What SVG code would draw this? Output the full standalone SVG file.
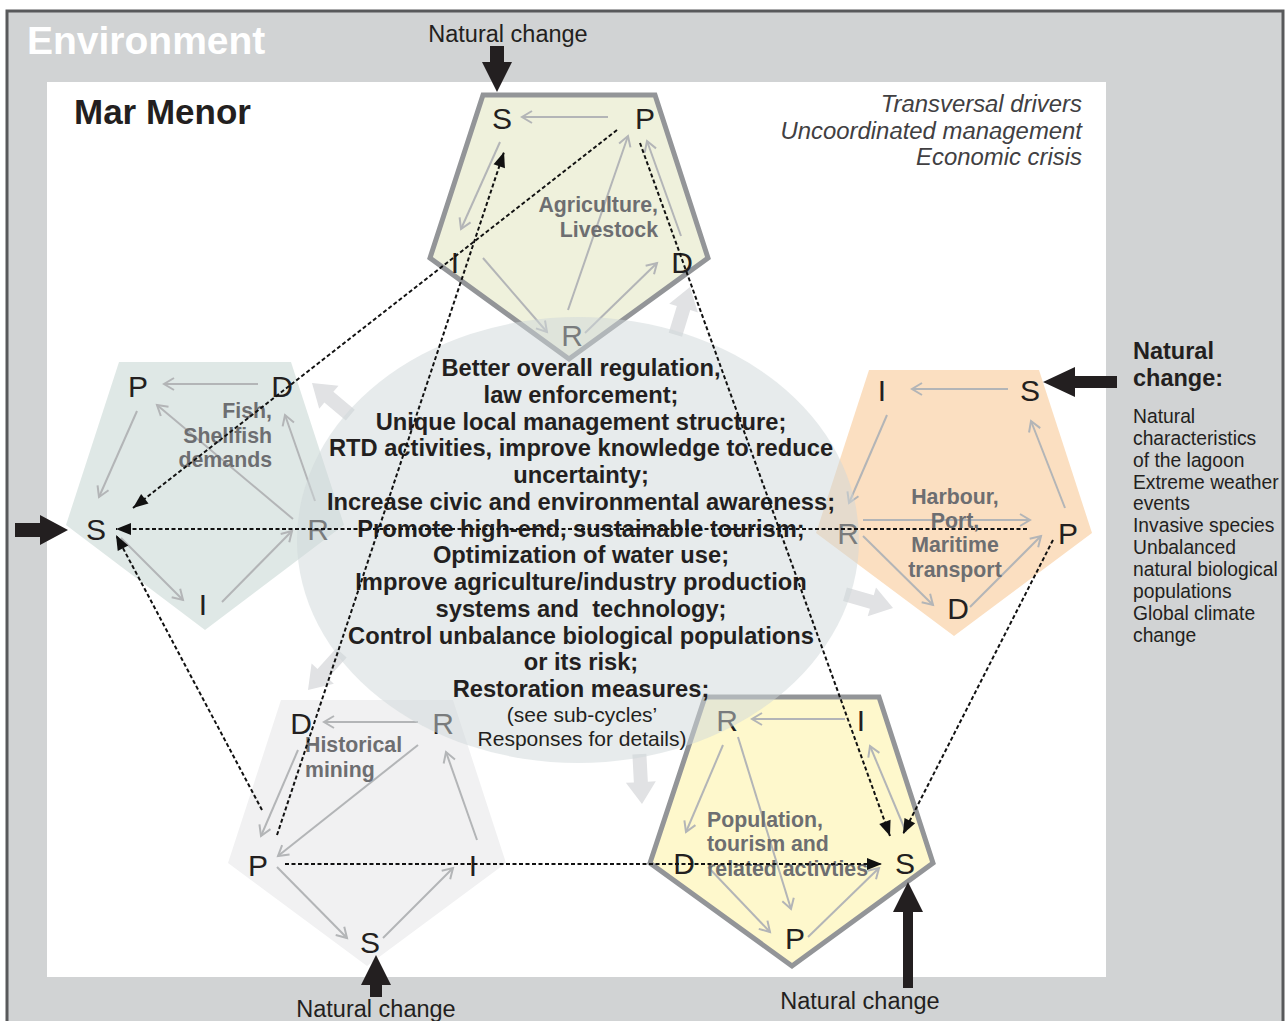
<svg xmlns="http://www.w3.org/2000/svg" width="1286" height="1021" viewBox="0 0 1286 1021">
<style>
text{font-family:"Liberation Sans",Arial,sans-serif}
.lbl{font-size:30px;fill:#231f20;text-anchor:middle}
.sub{font-size:21.3px;font-weight:bold;fill:#6d6e71}
.ga{stroke:#b3b5b7;stroke-width:2;fill:none;marker-end:url(#ga)}
.dc{stroke:#111;stroke-width:2;stroke-dasharray:4 2.5;fill:none;marker-end:url(#bk)}
.ctr{font-size:23.7px;font-weight:bold;fill:#231f20;text-anchor:middle}
.nat{font-size:23.5px;fill:#231f20;text-anchor:middle}
.side{font-size:19.3px;fill:#231f20}
.ital{font-size:23.9px;font-style:italic;fill:#414042;text-anchor:end}
.blk{fill:#231f20}
.big{fill:#e1e2e4}
</style>
<defs>
<marker id="ga" markerUnits="userSpaceOnUse" markerWidth="14" markerHeight="14" refX="10" refY="6" orient="auto" overflow="visible">
<path d="M0,0 L10,6 L0,12" fill="none" stroke="#b3b5b7" stroke-width="2"/>
</marker>
<marker id="bk" markerUnits="userSpaceOnUse" markerWidth="16" markerHeight="13" refX="15" refY="6" orient="auto" overflow="visible">
<path d="M0,0 L15,6 L0,12 z" fill="#111"/>
</marker>
<polygon id="bigarrow" points="-50,-7 -22,-7 -22,-15 0,0 -22,15 -22,7 -50,7"/>
</defs>

<!-- Environment frame -->
<rect x="7" y="11" width="1276" height="1016" fill="#d1d3d4" stroke="#58595b" stroke-width="3"/>
<text x="27" y="54" font-size="39" font-weight="bold" fill="#ffffff">Environment</text>
<rect x="47" y="82" width="1059" height="895" fill="#ffffff"/>
<text x="74" y="124" font-size="35" font-weight="bold" fill="#231f20">Mar Menor</text>

<text class="ital" x="1082" y="112">Transversal drivers</text>
<text class="ital" x="1082" y="139">Uncoordinated management</text>
<text class="ital" x="1082" y="165">Economic crisis</text>

<!-- big light arrows from central responses -->
<g id="response-arrows">
<use href="#bigarrow" class="big" transform="translate(690,287) rotate(-73)"/>
<use href="#bigarrow" class="big" transform="translate(312,383) rotate(-140)"/>
<use href="#bigarrow" class="big" transform="translate(893,608) rotate(16)"/>
<use href="#bigarrow" class="big" transform="translate(308,690) rotate(132)"/>
<use href="#bigarrow" class="big" transform="translate(642,804) rotate(87)"/>
</g>

<!-- Agriculture, Livestock -->
<g id="agriculture">
<polygon points="569,359 430,258 483,95 655,95 708,258" fill="#eff1dc" stroke="#939598" stroke-width="5" stroke-linejoin="miter"/>
<line class="ga" x1="608" y1="117" x2="522" y2="117"/>
<line class="ga" x1="500" y1="142" x2="461" y2="229"/>
<line class="ga" x1="483" y1="258" x2="547" y2="332"/>
<line class="ga" x1="568" y1="310" x2="628" y2="136"/>
<line class="ga" x1="585" y1="333" x2="657" y2="263"/>
<line class="ga" x1="681" y1="236" x2="647" y2="141"/>
<text class="lbl" x="502" y="129">S</text>
<text class="lbl" x="645" y="129">P</text>
<text class="lbl" x="455" y="273">I</text>
<text class="lbl" x="682" y="273">D</text>
<text class="lbl" x="572" y="346">R</text>
<text class="sub" x="658" y="212" text-anchor="end">Agriculture,</text>
<text class="sub" x="658" y="237" text-anchor="end">Livestock</text>
</g>

<!-- Fish, Shellfish demands -->
<g id="fish">
<polygon points="205,630 66,525 119,362 291,362 344,525" fill="#dfe8e6"/>
<line class="ga" x1="258" y1="384" x2="164" y2="384"/>
<line class="ga" x1="137" y1="411" x2="99" y2="497"/>
<line class="ga" x1="121" y1="538" x2="183" y2="600"/>
<line class="ga" x1="222" y1="602" x2="292" y2="531"/>
<line class="ga" x1="293" y1="519" x2="157" y2="405"/>
<line class="ga" x1="315" y1="501" x2="285" y2="415"/>
<text class="lbl" x="138" y="397">P</text>
<text class="lbl" x="282" y="397">D</text>
<text class="lbl" x="96" y="540">S</text>
<text class="lbl" x="318" y="540">R</text>
<text class="lbl" x="203" y="615">I</text>
<text class="sub" x="272" y="418" text-anchor="end">Fish,</text>
<text class="sub" x="272" y="443" text-anchor="end">Shellfish</text>
<text class="sub" x="272" y="467" text-anchor="end">demands</text>
</g>

<!-- Harbour, Port, Maritime transport -->
<g id="harbour">
<polygon points="954,636 816,533 869,370 1039,370 1092,533" fill="#fbdfc1"/>
<line class="ga" x1="1008" y1="389" x2="912" y2="389"/>
<line class="ga" x1="887" y1="415" x2="849" y2="503"/>
<line class="ga" x1="863" y1="520" x2="1030" y2="520"/>
<line class="ga" x1="863" y1="536" x2="933" y2="605"/>
<line class="ga" x1="970" y1="607" x2="1041" y2="536"/>
<line class="ga" x1="1065" y1="508" x2="1031" y2="421"/>
<text class="lbl" x="882" y="401">I</text>
<text class="lbl" x="1030" y="401">S</text>
<text class="lbl" x="848" y="544">R</text>
<text class="lbl" x="1068" y="544">P</text>
<text class="lbl" x="958" y="619">D</text>
<text class="sub" x="955" y="504" text-anchor="middle">Harbour,</text>
<text class="sub" x="955" y="528" text-anchor="middle">Port,</text>
<text class="sub" x="955" y="552" text-anchor="middle">Maritime</text>
<text class="sub" x="955" y="577" text-anchor="middle">transport</text>
</g>

<!-- Historical mining -->
<g id="mining">
<polygon points="367,966 228,863 281,700 453,700 506,863" fill="#f1f1f2"/>
<line class="ga" x1="418" y1="722" x2="324" y2="722"/>
<line class="ga" x1="298" y1="750" x2="261" y2="836"/>
<line class="ga" x1="418" y1="745" x2="278" y2="856"/>
<line class="ga" x1="277" y1="867" x2="347" y2="938"/>
<line class="ga" x1="383" y1="938" x2="453" y2="868"/>
<line class="ga" x1="477" y1="840" x2="446" y2="752"/>
<text class="lbl" x="301" y="734">D</text>
<text class="lbl" x="443" y="734">R</text>
<text class="lbl" x="258" y="876">P</text>
<text class="lbl" x="473" y="876">I</text>
<text class="lbl" x="370" y="953">S</text>
<text class="sub" x="305" y="752">Historical</text>
<text class="sub" x="305" y="777">mining</text>
</g>

<!-- Population, tourism and related activities -->
<g id="population">
<polygon points="792,966 650,863 705,697 879,697 933,863" fill="#fef8cc" stroke="#939598" stroke-width="5"/>
<line class="ga" x1="845" y1="719" x2="752" y2="719"/>
<line class="ga" x1="723" y1="745" x2="686" y2="832"/>
<line class="ga" x1="738" y1="737" x2="791" y2="909"/>
<line class="ga" x1="708" y1="867" x2="770" y2="932"/>
<line class="ga" x1="808" y1="937" x2="879" y2="868"/>
<line class="ga" x1="906" y1="832" x2="870" y2="746"/>
<text class="lbl" x="727" y="731">R</text>
<text class="lbl" x="861" y="731">I</text>
<text class="lbl" x="684" y="874">D</text>
<text class="lbl" x="905" y="874">S</text>
<text class="lbl" x="795" y="949">P</text>
<text class="sub" x="707" y="827">Population,</text>
<text class="sub" x="707" y="851">tourism and</text>
<text class="sub" x="707" y="876">related activties</text>
</g>

<!-- central responses ellipse -->
<g id="responses">
<ellipse cx="578" cy="540" rx="281" ry="223" fill="#cfd8da" fill-opacity="0.5"/>
<text class="ctr" x="581" y="376">Better overall regulation,</text>
<text class="ctr" x="581" y="403">law enforcement;</text>
<text class="ctr" x="581" y="430">Unique local management structure;</text>
<text class="ctr" x="581" y="456">RTD activities, improve knowledge to reduce</text>
<text class="ctr" x="581" y="483">uncertainty;</text>
<text class="ctr" x="581" y="510">Increase civic and environmental awareness;</text>
<text class="ctr" x="581" y="537">Promote high-end, sustainable tourism;</text>
<text class="ctr" x="581" y="563">Optimization of water use;</text>
<text class="ctr" x="581" y="590">Improve agriculture/industry production</text>
<text class="ctr" x="581" y="617" xml:space="preserve">systems and  technology;</text>
<text class="ctr" x="581" y="644">Control unbalance biological populations</text>
<text class="ctr" x="581" y="670">or its risk;</text>
<text class="ctr" x="581" y="697">Restoration measures;</text>
<text x="582" y="722" font-size="21" fill="#231f20" text-anchor="middle">(see sub-cycles’</text>
<text x="582" y="746" font-size="21" fill="#231f20" text-anchor="middle">Responses for details)</text>
</g>

<!-- connectors -->
<g id="connectors">
<line class="dc" x1="617" y1="130" x2="133" y2="508"/>
<line class="dc" x1="277" y1="835" x2="504" y2="152"/>
<line class="dc" x1="640" y1="143" x2="890" y2="836"/>
<line class="dc" x1="1027" y1="529" x2="116" y2="529"/>
<line class="dc" x1="262" y1="810" x2="116" y2="535"/>
<line class="dc" x1="285" y1="864" x2="882" y2="864"/>
<line class="dc" x1="1053" y1="540" x2="903" y2="834"/>
</g>

<!-- natural change arrows -->
<g id="natural-change">
<polygon class="blk" points="490,46 504,46 504,62 512,62 497,92 482,62 490,62"/>
<polygon class="blk" points="15,523 40,523 40,515 68,530 40,545 40,537 15,537"/>
<polygon class="blk" points="1117,376 1075,376 1075,367 1043,382 1075,397 1075,388 1117,388"/>
<polygon class="blk" points="370,997 382,997 382,985 391,985 376,955 361,985 370,985"/>
<polygon class="blk" points="903,988 913,988 913,912 923,912 908,882 893,912 903,912"/>
<text class="nat" x="508" y="42">Natural change</text>
<text class="nat" x="376" y="1017">Natural change</text>
<text class="nat" x="860" y="1009">Natural change</text>
</g>

<!-- natural change list -->
<g id="natural-list">
<text x="1133" y="359" font-size="23.5" font-weight="bold" fill="#231f20">Natural</text>
<text x="1133" y="386" font-size="23.5" font-weight="bold" fill="#231f20">change:</text>
<text class="side" x="1133" y="423">Natural</text>
<text class="side" x="1133" y="445">characteristics</text>
<text class="side" x="1133" y="467">of the lagoon</text>
<text class="side" x="1133" y="489">Extreme weather</text>
<text class="side" x="1133" y="510">events</text>
<text class="side" x="1133" y="532">Invasive species</text>
<text class="side" x="1133" y="554">Unbalanced</text>
<text class="side" x="1133" y="576">natural biological</text>
<text class="side" x="1133" y="598">populations</text>
<text class="side" x="1133" y="620">Global climate</text>
<text class="side" x="1133" y="642">change</text>
</g>
</svg>
